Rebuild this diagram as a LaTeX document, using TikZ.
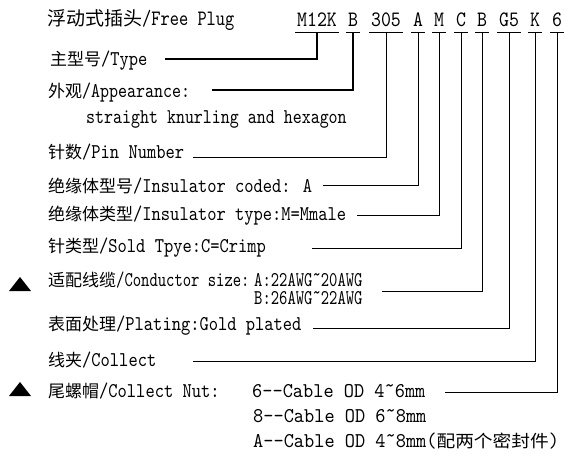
\documentclass[tikz,border=0pt]{standalone}
\usepackage{fontspec}
\newfontfamily\latf{lmmono10-regular.otf}[FakeStretch=0.84]
\newfontfamily\codef{lmmono10-regular.otf}[FakeStretch=0.86]
\newfontfamily\cjkf{Noto Sans CJK SC}
\newcommand\zh[1]{{\cjkf\fontsize{17}{20}\selectfont #1}}
\newcommand\zht[1]{{\cjkf\fontsize{19}{22}\selectfont #1}}
\newcommand\sqz[2]{\scalebox{#1}[1]{#2}}
\begin{document}
\begin{tikzpicture}[x=1pt,y=-1pt,
  lab/.style={anchor=base west, inner sep=0pt, font={\latf\fontsize{21}{24}\selectfont}},
  code/.style={anchor=base, inner xsep=1.5pt, inner ysep=5pt, text depth=0pt, font={\codef\fontsize{22}{24}\selectfont}},
  uline/.style={line width=0.9pt},
  thickline/.style={line width=1.8pt},
  thinline/.style={line width=0.9pt},
  marker/.style={fill=black}]
\fill[white] (0,0) rectangle (564,460);
\useasboundingbox (0,0) rectangle (564,460);

% title and code
\node[lab] (title) at (47,26) {\zht{浮动式插头}{\fontsize{22}{24}\selectfont\sqz{0.95}{/Free Plug}}};
\node[code] (c1) at (317,27) {M12K};
\node[code] (c2) at (353,27) {B};
\node[code] (c3) at (386,27) {305};
\node[code] (c4) at (418,27) {A};
\node[code] (c5) at (439,27) {M};
\node[code] (c6) at (461,27) {C};
\node[code] (c7) at (482,27) {B};
\node[code] (c8) at (509,27) {G5};
\node[code] (c9) at (535,27) {K};
\node[code] (c10) at (557,27) {6};
\foreach \c in {c1,c2,c3,c4,c5,c6,c7,c8,c9,c10}
  \draw[uline] (\c.south west) -- (\c.south east);

% labels
\node[lab] (type) at (50,65) {\zh{主型号}/Type};
\node[lab] (app) at (48,97) {\zh{外观}\sqz{0.97}{/Appearance:}};
\node[lab] (app2) at (86,123) {\sqz{0.97}{straight knurling and hexagon}};
\node[lab] (pin) at (48,158) {\zh{针数}/Pin Number};
\node[lab] (coded) at (48,192) {\zh{绝缘体型号}/Insulator coded: A};
\node[lab] (itype) at (48,220) {\zh{绝缘体类型}/Insulator type:M=Mmale};
\node[lab] (sold) at (48,252) {\zh{针类型}/Sold Tpye:C=Crimp};
\node[lab] (cond) at (48,286) {\zh{适配线缆}\sqz{0.9}{/Conductor size:}};
\node[lab, text depth=0pt] (condA) at (254,286) {\sqz{0.9}{A:22AWG˜20AWG}};
\node[lab, text height=13pt] (condB) at (254,304) {\sqz{0.9}{B:26AWG˜22AWG}};
\node[lab] (plat) at (48,330) {\zh{表面处理}/Plating:Gold plated};
\node[lab] (coll) at (48,366) {\zh{线夹}/Collect};
\node[lab] (nut) at (48,397) {\zh{尾螺帽}/Collect Nut:};
\node[lab] (nut6) at (252,397) {\sqz{1.1}{6--Cable OD 4˜6mm}};
\node[lab] (nut8) at (253,422) {\sqz{1.1}{8--Cable OD 6˜8mm}};
\node[lab] (nutA) at (253,447) {\sqz{1.1}{A--Cable OD 4˜8mm(\zh{配两个密封件})}};

% markers
\fill[marker] (9,291) -- (31,291) -- (20,277) -- cycle;
\fill[marker] (9,396) -- (31,396) -- (20,382) -- cycle;

% connector free ends
\coordinate (h1) at (165,59);
\coordinate (h2) at (212,90);
\coordinate (h3) at (193,157);
\coordinate (h4) at (323,185);
\coordinate (h5) at (357,215);
\coordinate (h6) at (312,248);
\coordinate (h7) at (382,291);
\coordinate (h8) at (313,328);
\coordinate (h9) at (193,361);
\coordinate (h10) at (445,392);

\draw[thickline] (c1.south) |- (h1);
\draw[thickline] (c2.south) |- (h2);
\draw[thinline] (c3.south) |- (h3);
\draw[thinline] (c4.south) |- (h4);
\draw[thinline] (c5.south) |- (h5);
\draw[thinline] (c6.south) |- (h6);
\draw[thinline] (c7.south) |- (h7);
\draw[thinline] (c8.south) |- (h8);
\draw[thinline] (c9.south) |- (h9);
\draw[thinline] (c10.south) |- (h10);
\end{tikzpicture}
\end{document}
